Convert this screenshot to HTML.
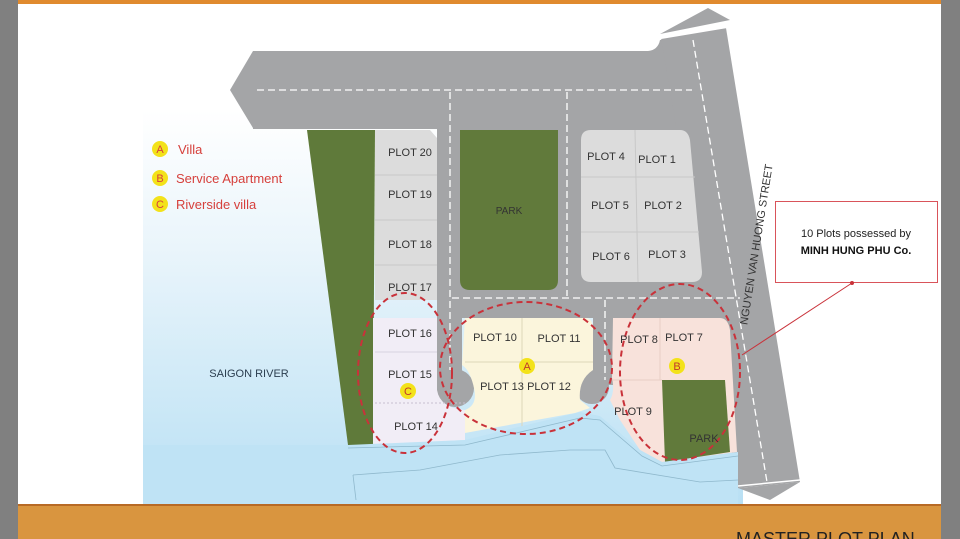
<!DOCTYPE html>
<html><head><meta charset="utf-8"><style>
html,body{margin:0;padding:0;width:960px;height:539px;overflow:hidden;background:#fff}
svg{display:block}
text{font-family:"Liberation Sans",sans-serif}
</style></head><body>
<svg width="960" height="539" viewBox="0 0 960 539" xmlns="http://www.w3.org/2000/svg">
<defs>
<linearGradient id="sky" x1="0" y1="0" x2="0" y2="1">
<stop offset="0" stop-color="#ffffff"/><stop offset="0.35" stop-color="#eaf5fb"/><stop offset="1" stop-color="#b9e0f4"/>
</linearGradient>
</defs>
<rect x="0" y="0" width="960" height="539" fill="#fff"/>
<rect x="0" y="0" width="18" height="539" fill="#808080"/>
<rect x="941" y="0" width="19" height="539" fill="#808080"/>
<rect x="18" y="0" width="923" height="4" fill="#e08a2e"/>
<rect x="143" y="110" width="600" height="394" fill="url(#sky)"/>
<!-- roads -->
<path d="M253,51 H648 Q658,50 660,40 L680,38 L680,129 H253 Z" fill="#a4a5a7"/>
<polygon points="253,51 230,90 253,128" fill="#a4a5a7"/>
<polygon points="661,38 726,28 800,482 738,488" fill="#a4a5a7"/>
<polygon points="660,34 708,8 730,20" fill="#a4a5a7"/>
<line x1="658" y1="38" x2="730" y2="26" stroke="#fff" stroke-width="3"/>
<polygon points="738,488 800,482 770,500" fill="#a4a5a7"/>
<line x1="738" y1="486" x2="800" y2="480" stroke="#fff" stroke-width="1.5"/>
<polygon points="440,129 705,129 742,318 440,318" fill="#a4a5a7"/>
<rect x="437" y="129" width="25" height="265" fill="#a4a5a7"/>
<circle cx="455" cy="388" r="19" fill="#a4a5a7"/>
<rect x="593" y="310" width="20" height="75" fill="#a4a5a7"/>
<circle cx="592" cy="387" r="17" fill="#a4a5a7"/>
<g stroke="#fff" stroke-width="1.3" stroke-dasharray="7,4" fill="none">
<line x1="257" y1="90" x2="692" y2="90"/>
<line x1="693" y1="40" x2="767" y2="482"/>
<line x1="450" y1="92" x2="450" y2="370"/>
<line x1="567" y1="92" x2="567" y2="296"/>
<line x1="452" y1="298" x2="740" y2="298"/>
<line x1="605" y1="300" x2="605" y2="380"/>
</g>
<polygon points="307,130 375,130 373,445 348,445" fill="#5f7a3a"/>
<path d="M375,130 H430 L437,138 V300 H375 Z" fill="#dcdcdc"/>
<g stroke="#c8c8c8" stroke-width="1"><line x1="375" y1="175" x2="437" y2="175"/><line x1="375" y1="220" x2="437" y2="220"/><line x1="375" y1="265" x2="437" y2="265"/></g>
<path d="M460,130 H558 V280 Q558,290 548,290 H470 Q460,290 460,280 Z" fill="#617a3b"/>
<path d="M581,140 Q581,130 591,130 H680 Q688,130 690,140 L702,272 Q702,282 692,282 H591 Q581,282 581,272 Z" fill="#dcdcdc"/>
<g stroke="#c8c8c8" stroke-width="1"><line x1="581" y1="177" x2="695" y2="177"/><line x1="581" y1="232" x2="699" y2="232"/><line x1="635" y1="130" x2="638" y2="282"/></g>
<path d="M373,318 H437 V352 L437,390 Q440,408 465,410 V440 L373,445 Z" fill="#f1edf6"/>
<line x1="375" y1="352" x2="437" y2="352" stroke="#d8d2e0"/>
<line x1="375" y1="403" x2="465" y2="403" stroke="#c8c0d0" stroke-dasharray="2,2"/>
<path d="M465,318 H585 Q593,318 593,330 V370 Q578,380 580,400 L590,408 L575,413 L465,433 V410 Q478,405 474,388 Q470,370 462,365 Z" fill="#fbf5dc"/>
<g stroke="#ddd6b8" stroke-width="1"><line x1="465" y1="362" x2="593" y2="362"/><line x1="522" y1="318" x2="522" y2="428"/></g>
<path d="M613,318 H720 Q728,318 730,330 L737,452 L662,462 L640,450 L620,420 L610,400 Q615,392 612,378 Z" fill="#f8e2db"/>
<line x1="660" y1="318" x2="660" y2="380" stroke="#e8cfc6"/>
<line x1="612" y1="380" x2="662" y2="380" stroke="#e8cfc6"/>
<polygon points="662,380 725,380 730,452 665,462" fill="#617a3b"/>
<polygon points="348,445 465,440 580,412 600,416 640,450 662,462 738,452 738,504 143,504 143,445" fill="#bfe3f5"/>
<g stroke="#8fb8cc" stroke-width="0.8" fill="none">
<polyline points="348,448 465,445 580,418 600,420 642,456 662,466 738,456"/>
<polyline points="353,475 420,470 500,455 570,450 605,450 615,468 700,482 738,480"/>
<line x1="353" y1="475" x2="356" y2="500"/>
</g>
<g stroke="#c9323a" stroke-width="2" stroke-dasharray="6,4" fill="none">
<ellipse cx="405" cy="373" rx="47" ry="80"/>
<ellipse cx="526" cy="368" rx="86" ry="66"/>
<ellipse cx="680" cy="372" rx="60" ry="88"/>
</g>
<g font-size="11" fill="#333" text-anchor="middle">
<text x="410" y="156">PLOT 20</text>
<text x="410" y="198">PLOT 19</text>
<text x="410" y="248">PLOT 18</text>
<text x="410" y="291">PLOT 17</text>
<text x="410" y="337">PLOT 16</text>
<text x="410" y="378">PLOT 15</text>
<text x="416" y="430">PLOT 14</text>
<text x="509" y="214" font-size="10">PARK</text>
<text x="606" y="160">PLOT 4</text>
<text x="657" y="163">PLOT 1</text>
<text x="610" y="209">PLOT 5</text>
<text x="663" y="209">PLOT 2</text>
<text x="611" y="260">PLOT 6</text>
<text x="667" y="258">PLOT 3</text>
<text x="495" y="341">PLOT 10</text>
<text x="559" y="342">PLOT 11</text>
<text x="502" y="390">PLOT 13</text>
<text x="549" y="390">PLOT 12</text>
<text x="639" y="343">PLOT 8</text>
<text x="684" y="341">PLOT 7</text>
<text x="633" y="415">PLOT 9</text>
<text x="704" y="442">PARK</text>
<text x="249" y="377" fill="#2c3e50">SAIGON RIVER</text>
</g>
<g font-size="11" text-anchor="middle" fill="#c0392b">
<circle cx="527" cy="366" r="8" fill="#f3e21a"/><text x="527" y="370">A</text>
<circle cx="677" cy="366" r="8" fill="#f3e21a"/><text x="677" y="370">B</text>
<circle cx="408" cy="391" r="8" fill="#f3e21a"/><text x="408" y="395">C</text>
</g>
<g font-size="13" fill="#d6403c">
<circle cx="160" cy="149" r="8" fill="#f3e21a"/><text x="160" y="153" text-anchor="middle" font-size="11">A</text><text x="178" y="154">Villa</text>
<circle cx="160" cy="178" r="8" fill="#f3e21a"/><text x="160" y="182" text-anchor="middle" font-size="11">B</text><text x="176" y="183">Service Apartment</text>
<circle cx="160" cy="204" r="8" fill="#f3e21a"/><text x="160" y="208" text-anchor="middle" font-size="11">C</text><text x="176" y="209">Riverside villa</text>
</g>
<text x="0" y="0" font-size="11" fill="#333" text-anchor="middle" transform="translate(760,245) rotate(-81)">NGUYEN VAN HUONG STREET</text>
<rect x="775.5" y="201.5" width="162" height="81" fill="#fff" stroke="#d9535a" stroke-width="1"/>
<text x="856" y="237" font-size="11" fill="#222" text-anchor="middle">10 Plots possessed by</text>
<text x="856" y="254" font-size="11" font-weight="bold" fill="#111" text-anchor="middle">MINH HUNG PHU Co.</text>
<line x1="742" y1="355" x2="852" y2="283" stroke="#c9323a" stroke-width="1"/>
<circle cx="852" cy="283" r="2" fill="#c9323a"/>
<rect x="18" y="504" width="923" height="35" fill="#d9953f"/>
<rect x="18" y="504" width="923" height="2" fill="#b86a25"/>
<text x="736" y="545" font-size="18" fill="#222">MASTER PLOT PLAN</text>
</svg>
</body></html>
